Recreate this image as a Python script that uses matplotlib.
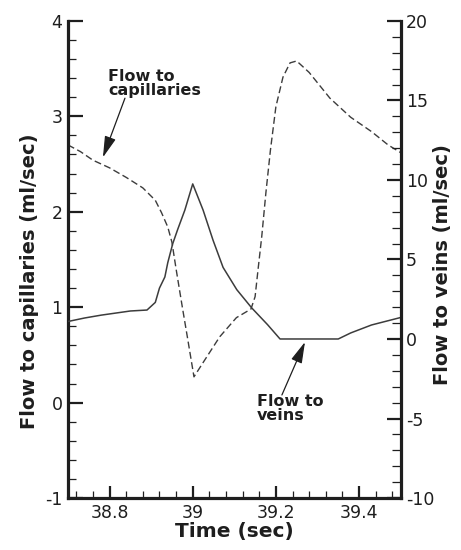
import matplotlib
matplotlib.use("Agg")
from matplotlib import pyplot as plt
from matplotlib.ticker import MultipleLocator

plt.rcParams['font.family'] = ['DejaVu Sans']
plt.rcParams['axes.unicode_minus'] = False

# flow to capillaries (ml/sec), dashed, left axis
cap_t = [38.70, 38.73, 38.76, 38.80, 38.84, 38.88, 38.91, 38.925, 38.94, 38.95,
         38.96, 38.975, 38.987, 39.003, 39.025, 39.065, 39.105, 39.14, 39.15,
         39.157, 39.166, 39.176, 39.187, 39.20, 39.217, 39.234, 39.25, 39.28,
         39.33, 39.38, 39.43, 39.47, 39.50]
cap_v = [2.70, 2.63, 2.54, 2.46, 2.36, 2.25, 2.12, 1.99, 1.84, 1.68,
         1.40, 1.00, 0.69, 0.27, 0.42, 0.69, 0.89, 0.98, 1.11,
         1.39, 1.74, 2.20, 2.65, 3.10, 3.41, 3.56, 3.58, 3.46,
         3.19, 2.99, 2.84, 2.70, 2.62]

# flow to veins (ml/sec), solid, right axis
vein_t = [38.70, 38.74, 38.78, 38.85, 38.89, 38.91, 38.92, 38.933, 38.94, 38.952,
          38.964, 38.981, 39.00, 39.025, 39.049, 39.073, 39.106, 39.142,
          39.18, 39.21, 39.35, 39.38, 39.43, 39.50]
vein_w = [1.10, 1.32, 1.50, 1.76, 1.82, 2.30, 3.20, 3.90, 4.80, 6.00,
          6.90, 8.10, 9.75, 8.10, 6.20, 4.50, 3.10, 1.95,
          0.90, 0.00, 0.00, 0.38, 0.88, 1.35]

ink = '#1e1e1e'
line_col = '#3c3c3c'

fig = plt.figure(figsize=(4.61, 5.5), dpi=100)
ax = fig.add_axes([0.1475, 0.0945, 0.7215, 0.8675])
ax2 = ax.twinx()

ax.plot(cap_t, cap_v, color=line_col, lw=1.0, dashes=(5, 2.5))
ax2.plot(vein_t, vein_w, color=line_col, lw=1.1)

ax.set_xlim(38.7, 39.5)
ax.set_ylim(-1, 4)
ax2.set_ylim(-10, 20)

ax.xaxis.set_major_locator(MultipleLocator(0.2))
ax.xaxis.set_minor_locator(MultipleLocator(0.04))
ax.yaxis.set_major_locator(MultipleLocator(1))
ax.yaxis.set_minor_locator(MultipleLocator(0.2))
ax2.yaxis.set_major_locator(MultipleLocator(5))
ax2.yaxis.set_minor_locator(MultipleLocator(1))
ax.set_xticks([38.8, 39.0, 39.2, 39.4])
ax.set_xticklabels(['38.8', '39', '39.2', '39.4'])

for a in (ax, ax2):
    a.spines['top'].set_visible(False)
    for s in a.spines.values():
        s.set_linewidth(2.3)
        s.set_color(ink)
ax2.spines['left'].set_visible(False)
ax2.spines['bottom'].set_visible(False)
ax.spines['right'].set_visible(False)

ax.tick_params(axis='y', which='major', direction='in', length=11, width=1.6,
               pad=4, labelsize=12.5, colors=ink)
ax.tick_params(axis='y', which='minor', direction='in', length=6, width=0.9, colors=ink)
ax.tick_params(axis='x', which='major', direction='in', length=9, width=1.6,
               pad=4, labelsize=12.5, colors=ink)
ax.tick_params(axis='x', which='minor', direction='in', length=5, width=0.9, colors=ink)
ax2.tick_params(axis='y', which='major', direction='in', length=10, width=1.6,
                pad=4, labelsize=12.5, colors=ink)
ax2.tick_params(axis='y', which='minor', direction='in', length=6.5, width=0.9, colors=ink)

ax.set_xlabel('Time (sec)', fontsize=14.5, fontweight='bold', color=ink, labelpad=0)
ax.set_ylabel('Flow to capillaries (ml/sec)', fontsize=14, fontweight='bold', color=ink)
ax2.set_ylabel('Flow to veins (ml/sec)', fontsize=14, fontweight='bold', color=ink)
ax.yaxis.set_label_coords(-0.087, 0.454)
ax2.yaxis.set_label_coords(1.097, 0.49)

arrow = dict(arrowstyle='-|>,head_length=1.3,head_width=0.35', color=ink, lw=0.9,
             shrinkA=0, shrinkB=0)

ax.text(38.796, 3.50, 'Flow to\ncapillaries', fontsize=11.5, fontweight='bold',
        color=ink, ha='left', va='top', linespacing=0.95)
ax.annotate('', xy=(38.784, 2.57), xytext=(38.837, 3.19), arrowprops=arrow)

ax2.text(39.154, -3.45, 'Flow to\nveins', fontsize=11.5, fontweight='bold',
         color=ink, ha='left', va='top', linespacing=0.95)
ax2.annotate('', xy=(39.27, -0.19), xytext=(39.2145, -3.52), arrowprops=arrow)

fig.savefig('out.png', dpi=100)
